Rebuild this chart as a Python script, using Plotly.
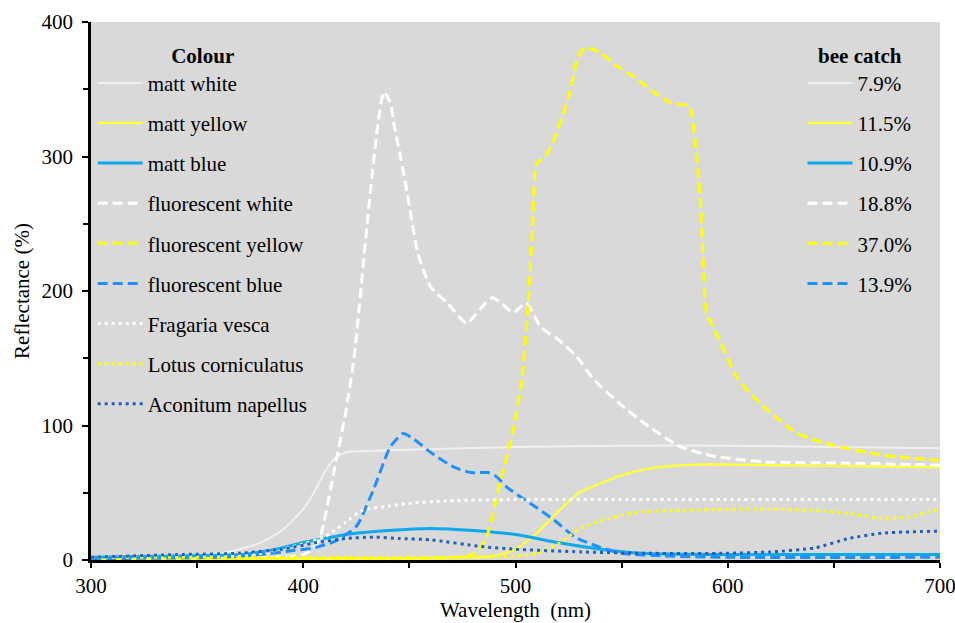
import plotly.graph_objects as go

# ---------------- data ----------------
matt_white_x = [300, 340, 360, 370, 380, 390, 400, 405, 410, 415, 420, 430, 450, 500, 550, 600, 650, 700]
matt_white_y = [2, 3, 5, 8, 13, 22, 38, 50, 65, 76, 80, 81, 82, 84, 85, 85, 84, 83]

matt_yellow_x = [300, 400, 450, 480, 490, 500, 510, 515, 520, 530, 540, 550, 560, 575, 590, 650, 700]
matt_yellow_y = [1, 1, 1, 2, 3, 8, 20, 28, 36, 50, 57, 63, 67, 70, 71, 70, 69]

matt_blue_x = [300, 340, 370, 380, 390, 400, 410, 420, 440, 460, 480, 500, 520, 540, 560, 600, 700]
matt_blue_y = [2, 3, 4, 6, 9, 13, 16, 19, 22, 23.5, 22, 19, 13, 8, 5, 4, 4]

fl_white_x = [300, 350, 390, 400, 405, 408, 415, 420, 424, 430, 435, 438, 441, 443, 446, 449, 454, 460,
              468, 477, 483, 489, 494, 499, 505, 512, 520, 529, 537, 550, 563, 578, 594, 617, 657, 700]
fl_white_y = [0.5, 1, 2, 4, 9, 17, 70, 110, 151, 248, 322, 348, 340, 322, 298, 273, 228, 203,
              191, 176, 186, 195, 190, 184, 191, 173, 164, 151, 134, 115, 99, 84, 77, 73, 72, 70.5]

fl_yellow_x = [300, 400, 460, 478, 483, 487, 493, 499, 503, 506, 508, 510, 514, 518, 525, 529.5, 533, 540,
               548, 556, 565, 573, 582, 584, 587, 588.5, 590, 596, 605, 617, 633, 649, 673, 700]
fl_yellow_y = [1, 1, 1.5, 3, 8, 20, 59, 97, 134, 191, 245, 295, 300, 312, 344, 374, 381, 377,
               367, 359, 348, 340, 337, 320, 270, 221, 184, 164, 134, 114, 94, 85.5, 78, 74]

fl_blue_x = [300, 360, 380, 395, 405, 415, 425, 433, 441, 447, 452, 460, 471, 479, 487, 491, 496, 507,
             518, 528, 539, 550, 570, 600, 700]
fl_blue_y = [1, 2, 4, 7, 9, 14, 25, 52, 84, 94, 90, 80, 69, 65, 65, 62, 54, 42,
             30, 17, 10, 5, 3, 2, 2]

fragaria_x = [300, 350, 370, 380, 390, 400, 410, 420, 428, 440, 449, 468, 500, 550, 600, 650, 700]
fragaria_y = [2, 3, 4, 5, 8, 12, 17, 28, 37, 40, 42, 44, 45, 45, 45, 45, 45]

lotus_x = [300, 400, 480, 500, 510, 520, 531, 540, 555, 578, 617, 640, 660, 673, 685, 700]
lotus_y = [2, 2, 2, 3, 5, 12, 24, 29, 35, 37, 38, 37, 34, 31, 32, 38]

aconitum_x = [300, 340, 370, 390, 405, 420, 433, 445, 460, 484, 500, 531, 560, 600, 620, 641, 657, 673, 700]
aconitum_y = [2, 4, 5, 8, 12.6, 16, 17, 16, 15, 10, 8, 6, 5, 5, 6, 9, 16, 20, 21.5]

series_names = ["matt white", "matt yellow", "matt blue", "fluorescent white", "fluorescent yellow",
                "fluorescent blue", "Fragaria vesca", "Lotus corniculatus", "Aconitum napellus"]
bee_catch = ["7.9%", "11.5%", "10.9%", "18.8%", "37.0%", "13.9%"]

x_ticks = [300, 400, 500, 600, 700]
y_ticks = [0, 100, 200, 300, 400]

# ---------------- styles ----------------
DASH = "10px,5px"
DOT = "3px,4px"
styles = [
    dict(color="#f0f0f0", width=2, dash="solid"),
    dict(color="#ffff40", width=2.5, dash="solid"),
    dict(color="#10a8ec", width=3, dash="solid"),
    dict(color="#ffffff", width=3, dash=DASH),
    dict(color="#ffff00", width=3, dash=DASH),
    dict(color="#1e90ff", width=3, dash=DASH),
    dict(color="#ffffff", width=3, dash=DOT),
    dict(color="#ffff00", width=3, dash=DOT),
    dict(color="#1f5fb5", width=3, dash=DOT),
]
data_xy = [(matt_white_x, matt_white_y), (matt_yellow_x, matt_yellow_y), (matt_blue_x, matt_blue_y),
           (fl_white_x, fl_white_y), (fl_yellow_x, fl_yellow_y), (fl_blue_x, fl_blue_y),
           (fragaria_x, fragaria_y), (lotus_x, lotus_y), (aconitum_x, aconitum_y)]

FONT = "Liberation Serif"
FS = 21
fig = go.Figure()

for i, ((xs, ys), name, st) in enumerate(zip(data_xy, series_names, styles)):
    fig.add_trace(go.Scatter(
        x=xs, y=ys, mode="lines", name=name,
        line=dict(color=st["color"], width=st["width"], dash=st["dash"], shape="spline", smoothing=0.6),
        legend="legend", legendgroup="g%d" % i, legendrank=i + 1,
    ))

for i, lab in enumerate(bee_catch):
    st = styles[i]
    fig.add_trace(go.Scatter(
        x=[None], y=[None], mode="lines", name=lab,
        line=dict(color=st["color"], width=st["width"], dash=st["dash"]),
        legend="legend2", legendgroup="b%d" % i, legendrank=i + 1,
    ))

legend_common = dict(
    bgcolor="rgba(0,0,0,0)", borderwidth=0,
    font=dict(family=FONT, size=FS, color="black"),
    traceorder="grouped", tracegroupgap=9.8, itemwidth=45,
    xanchor="left", yanchor="top",
)

fig.update_layout(
    width=955, height=623,
    margin=dict(l=91, r=15, t=22, b=63),
    paper_bgcolor="white", plot_bgcolor="#d9d9d9",
    font=dict(family=FONT, size=FS, color="black"),
    showlegend=True,
    legend=dict(x=0.002, y=0.975,
                title=dict(text="<b>Colour</b>", side="top center", font=dict(family=FONT, size=FS)),
                **legend_common),
    legend2=dict(x=0.838, y=0.975,
                 title=dict(text="<b>bee catch</b>", side="top center", font=dict(family=FONT, size=FS)),
                 **legend_common),
    xaxis=dict(
        range=[300, 700], tickvals=x_ticks, ticktext=[str(v) for v in x_ticks],
        showgrid=False, zeroline=False, showline=True, linecolor="black", linewidth=2.5,
        ticks="outside", ticklen=5, tickwidth=2, tickcolor="black", automargin=False,
        ticklabeloverflow="allow",
        minor=dict(dtick=50, tick0=300, ticks="outside", ticklen=5, tickwidth=2, tickcolor="black", showgrid=False),
        title=dict(text="Wavelength  (nm)", standoff=0, font=dict(family=FONT, size=FS)),
        tickfont=dict(family=FONT, size=FS), fixedrange=True,
    ),
    yaxis=dict(
        range=[0, 400], tickvals=y_ticks, ticktext=[str(v) for v in y_ticks],
        showgrid=False, zeroline=False, showline=True, linecolor="black", linewidth=2.5,
        ticks="outside", ticklen=6, tickwidth=2, tickcolor="black", automargin=False,
        ticklabelstandoff=5,
        minor=dict(dtick=50, tick0=0, ticks="outside", ticklen=5, tickwidth=2, tickcolor="black", showgrid=False),
        title=dict(text="Reflectance (%)", standoff=7, font=dict(family=FONT, size=FS)),
        tickfont=dict(family=FONT, size=FS), fixedrange=True,
    ),
)

# remove the default page margin / scrollbars so the figure sits at the window's top-left
fig.write_html("out.html",
               config={"displayModeBar": False},
               post_script="document.body.style.margin='0';document.body.style.overflow='hidden';")
